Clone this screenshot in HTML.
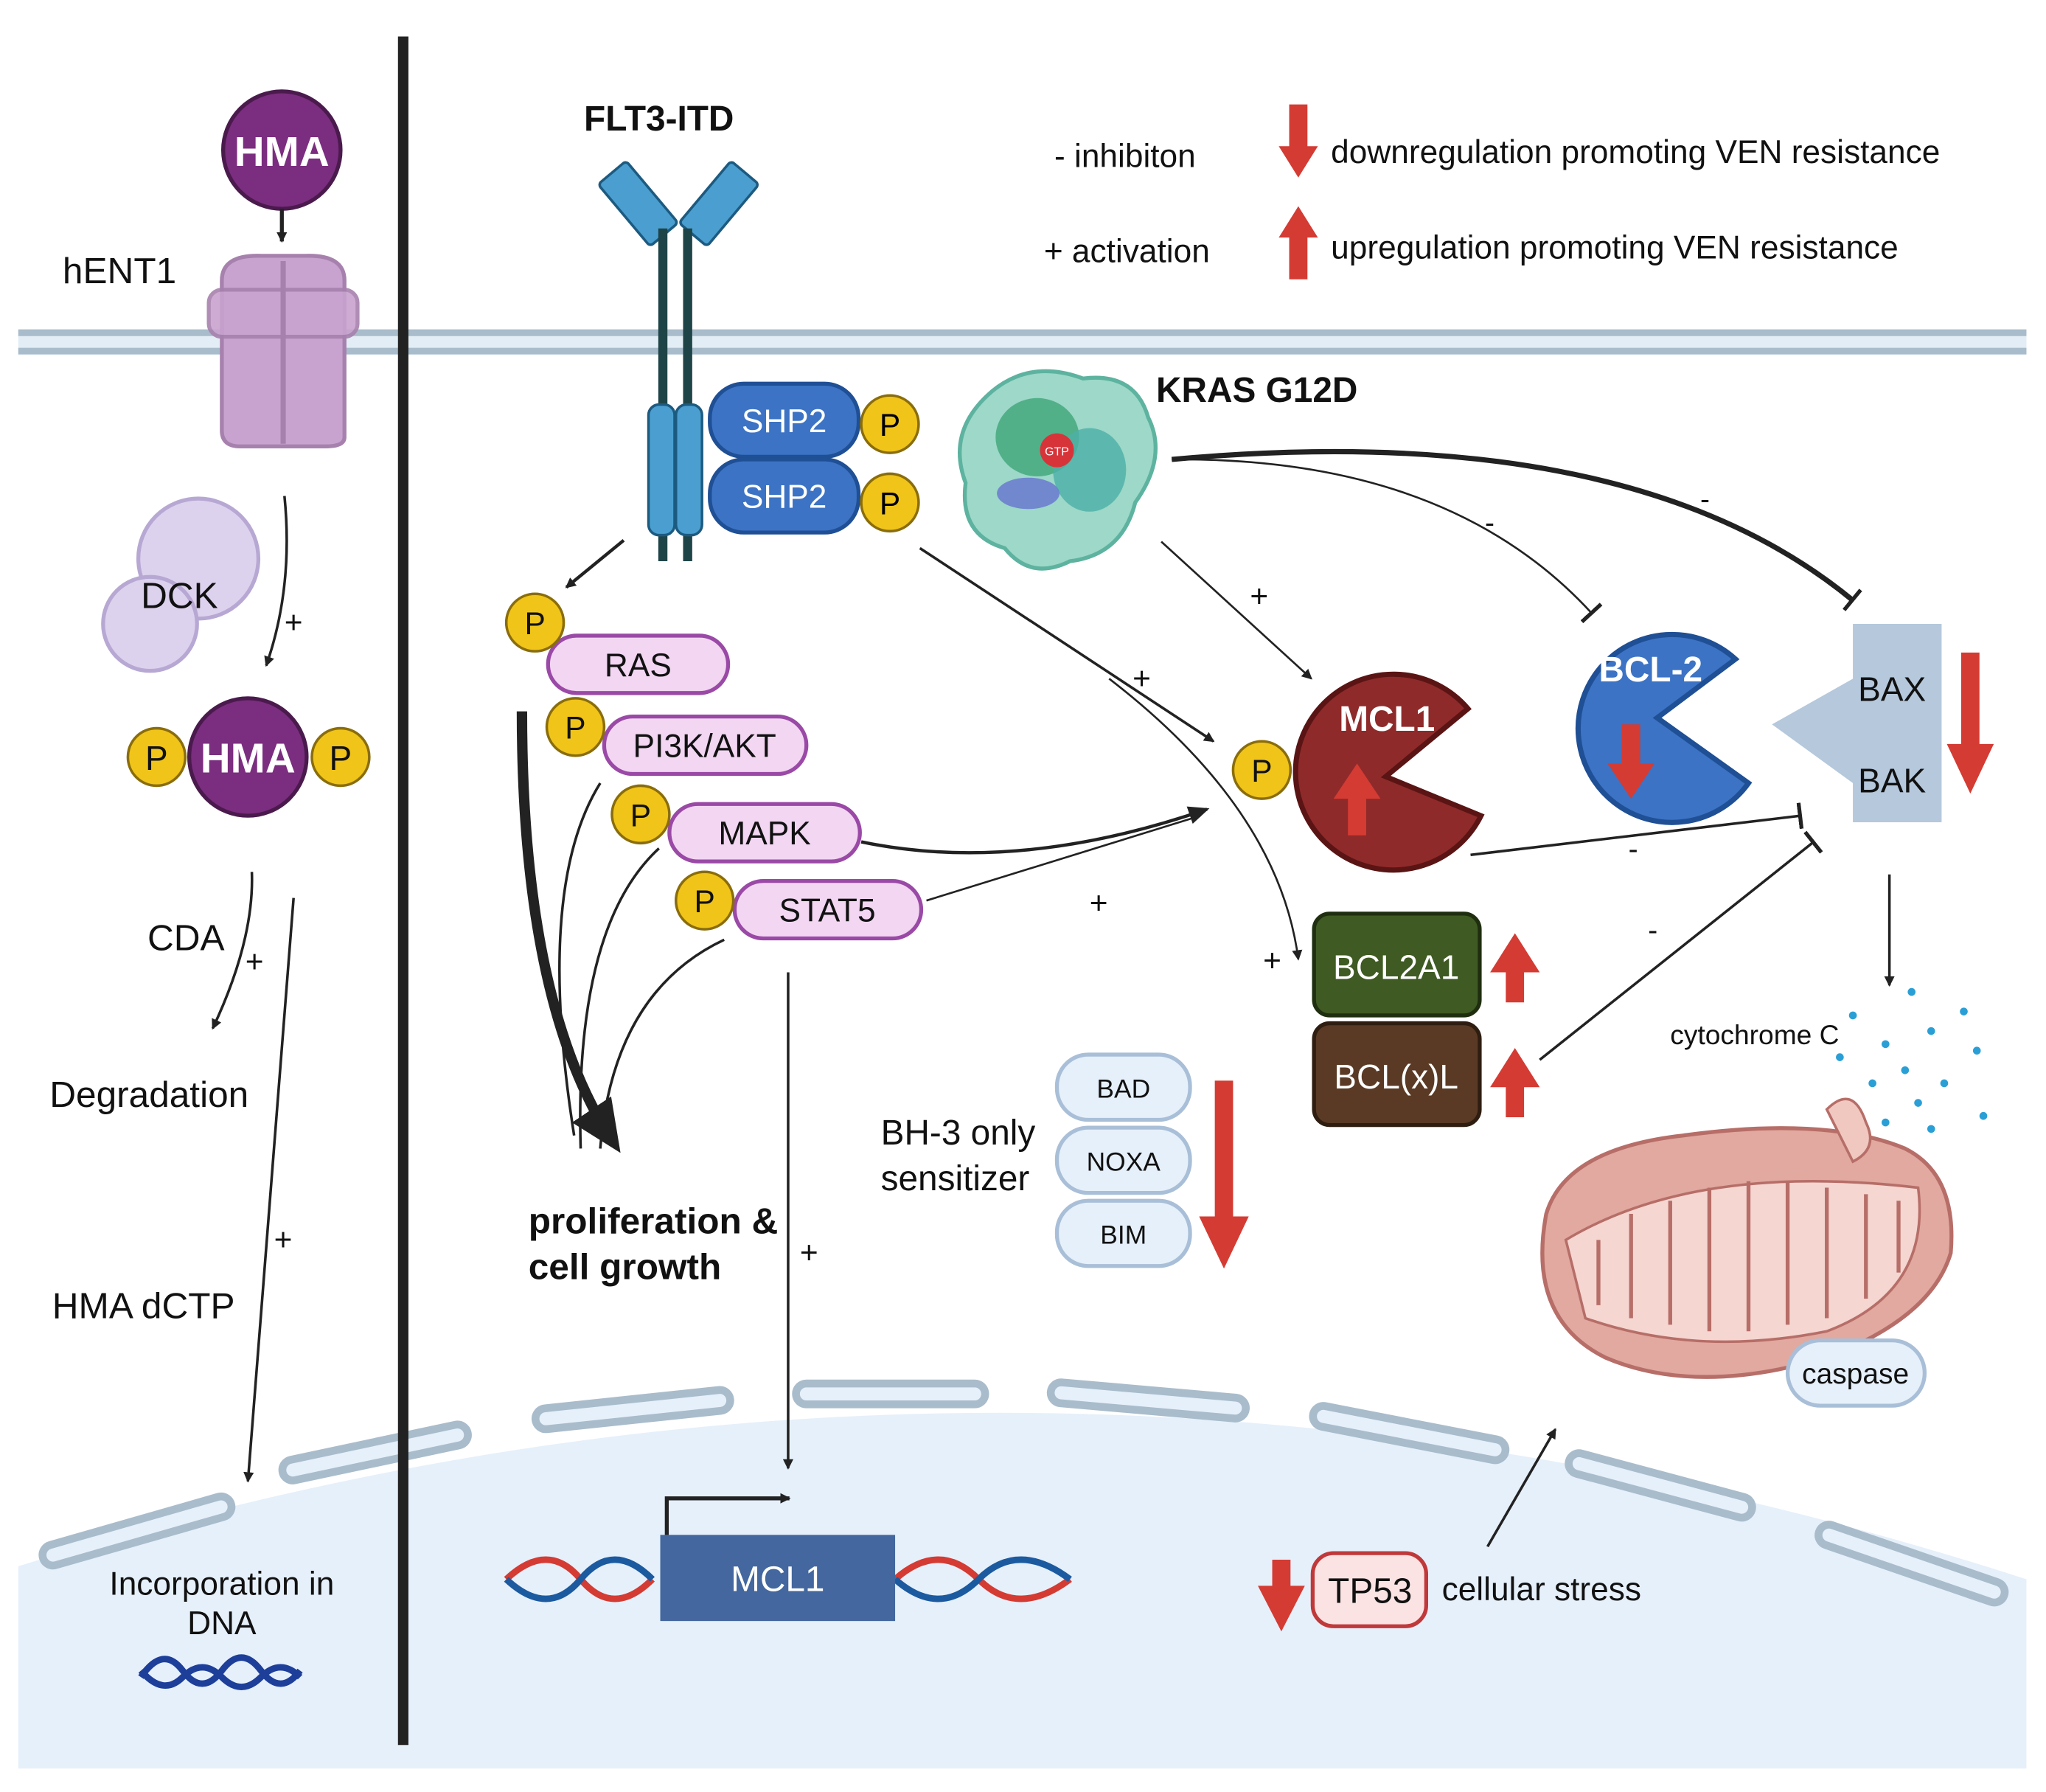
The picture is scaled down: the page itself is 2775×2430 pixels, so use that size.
<!DOCTYPE html>
<html><head><meta charset="utf-8"><style>
html,body{margin:0;padding:0;background:#fff;}
svg{display:block;}
text{font-family:"Liberation Sans",sans-serif;}
</style></head><body>
<svg width="2775" height="2430" viewBox="0 0 1568 1373" preserveAspectRatio="none" xmlns="http://www.w3.org/2000/svg">
<defs>
<marker id="ah" markerWidth="8" markerHeight="8" refX="7" refY="4" orient="auto" markerUnits="userSpaceOnUse"><path d="M0,0 L8,4 L0,8 Z" fill="#222"/></marker>
<marker id="ahb" markerWidth="16" markerHeight="14" refX="14" refY="7" orient="auto" markerUnits="userSpaceOnUse"><path d="M0,0 L16,7 L0,14 Z" fill="#222"/></marker>
<marker id="ahbig" markerWidth="40" markerHeight="36" refX="30" refY="18" orient="auto" markerUnits="userSpaceOnUse"><path d="M0,0 L40,18 L0,36 Z" fill="#222"/></marker>
<marker id="tb" markerWidth="4" markerHeight="20" refX="2" refY="10" orient="auto" markerUnits="userSpaceOnUse"><rect x="0" y="0" width="3" height="20" fill="#222"/></marker>
</defs>
<rect width="1568" height="1373" fill="#fff"/>
<path d="M14,1200 Q780,960 1553,1210 L1553,1355 L14,1355 Z" fill="#e6f0fa"/>
<g fill="#e6f0fa" stroke="#a9bccb" stroke-width="6">
<rect x="30" y="1165" width="150" height="16" rx="8" transform="rotate(-16 105 1173)"/>
<rect x="215" y="1105" width="145" height="16" rx="8" transform="rotate(-12 287 1113)"/>
<rect x="410" y="1072" width="150" height="16" rx="8" transform="rotate(-6 485 1080)"/>
<rect x="610" y="1060" width="145" height="16" rx="8"/>
<rect x="805" y="1065" width="150" height="16" rx="8" transform="rotate(5 880 1073)"/>
<rect x="1005" y="1090" width="150" height="16" rx="8" transform="rotate(11 1080 1098)"/>
<rect x="1200" y="1130" width="145" height="16" rx="8" transform="rotate(15 1272 1138)"/>
<rect x="1390" y="1190" width="150" height="16" rx="8" transform="rotate(19 1465 1198)"/>
</g>
<rect x="14" y="252" width="1539" height="20" fill="#e3edf5"/>
<line x1="14" y1="255" x2="1553" y2="255" stroke="#a9bccb" stroke-width="5"/>
<line x1="14" y1="269" x2="1553" y2="269" stroke="#a9bccb" stroke-width="5"/>
<line x1="309" y1="28" x2="309" y2="1337" stroke="#222" stroke-width="8"/>

<circle cx="216" cy="115" r="45" fill="#7b2d7f" stroke="#4a1a4d" stroke-width="3"/>
<text x="216" y="127" font-size="32" font-weight="bold" fill="#fff" text-anchor="middle">HMA</text>
<line x1="216" y1="160" x2="216" y2="185" stroke="#222" stroke-width="3" marker-end="url(#ah)"/>
<text x="48" y="217" font-size="28" fill="#111">hENT1</text>
<path d="M170,215 Q170,195 200,196 L234,196 Q264,195 264,215 L264,335 Q264,342 250,342 L184,342 Q170,342 170,330 Z" fill="#c9a3cf" stroke="#a781ad" stroke-width="3"/>
<rect x="160" y="222" width="114" height="36" rx="10" fill="#c9a3cf" stroke="#a781ad" stroke-width="3" opacity="0.9"/>
<line x1="217" y1="200" x2="217" y2="340" stroke="#a781ad" stroke-width="4"/>
<circle cx="152" cy="428" r="46" fill="#ddd2ee" stroke="#b7a8d3" stroke-width="3"/>
<circle cx="115" cy="478" r="36" fill="#ddd2ee" stroke="#b7a8d3" stroke-width="3"/>
<text x="108" y="466" font-size="28" fill="#111">DCK</text>
<path d="M218,380 Q225,450 204,510" fill="none" stroke="#222" stroke-width="2" marker-end="url(#ah)"/>
<text x="218" y="485" font-size="24" fill="#111">+</text>
<circle cx="190" cy="580" r="45" fill="#7b2d7f" stroke="#4a1a4d" stroke-width="3"/>
<text x="190" y="592" font-size="32" font-weight="bold" fill="#fff" text-anchor="middle">HMA</text>
<circle cx="120" cy="580" r="22" fill="#f0c419" stroke="#8a6d0b" stroke-width="2"/>
<text x="120" y="590" font-size="26" fill="#111" text-anchor="middle">P</text>
<circle cx="261" cy="580" r="22" fill="#f0c419" stroke="#8a6d0b" stroke-width="2"/>
<text x="261" y="590" font-size="26" fill="#111" text-anchor="middle">P</text>
<path d="M193,668 Q195,720 163,788" fill="none" stroke="#222" stroke-width="2" marker-end="url(#ah)"/>
<text x="113" y="728" font-size="28" fill="#111">CDA</text>
<text x="188" y="745" font-size="24" fill="#111">+</text>
<text x="38" y="848" font-size="28" fill="#111">Degradation</text>
<path d="M225,688 L190,1135" fill="none" stroke="#222" stroke-width="2" marker-end="url(#ah)"/>
<text x="210" y="958" font-size="24" fill="#111">+</text>
<text x="40" y="1010" font-size="28" fill="#111">HMA dCTP</text>
<text x="170" y="1222" font-size="25" fill="#111" text-anchor="middle">Incorporation  in</text>
<text x="170" y="1252" font-size="25" fill="#111" text-anchor="middle">DNA</text>
<path d="M108,1285 Q125,1260 140,1280 T170,1280 T200,1280 T230,1280" fill="none" stroke="#1d3f9a" stroke-width="5"/>
<path d="M108,1280 Q125,1300 140,1285 T170,1285 T200,1285 T230,1285" fill="none" stroke="#1d3f9a" stroke-width="5"/>

<text x="505" y="100" font-size="27" font-weight="bold" fill="#111" text-anchor="middle">FLT3-ITD</text>
<rect x="458" y="142" width="62" height="28" rx="3" fill="#4a9fd0" stroke="#1d5a80" stroke-width="2" transform="rotate(50 489 156)"/>
<rect x="520" y="142" width="62" height="28" rx="3" fill="#4a9fd0" stroke="#1d5a80" stroke-width="2" transform="rotate(-50 551 156)"/>
<line x1="508" y1="175" x2="508" y2="430" stroke="#1f4447" stroke-width="7"/>
<line x1="527" y1="175" x2="527" y2="430" stroke="#1f4447" stroke-width="7"/>
<rect x="497" y="310" width="20" height="100" rx="8" fill="#4a9fd0" stroke="#1d5a80" stroke-width="2"/>
<rect x="518" y="310" width="20" height="100" rx="8" fill="#4a9fd0" stroke="#1d5a80" stroke-width="2"/>
<rect x="544" y="294" width="114" height="56" rx="26" fill="#3c73c4" stroke="#1f4f95" stroke-width="3"/>
<text x="601" y="331" font-size="25" fill="#fff" text-anchor="middle">SHP2</text>
<rect x="544" y="352" width="114" height="56" rx="26" fill="#3c73c4" stroke="#1f4f95" stroke-width="3"/>
<text x="601" y="389" font-size="25" fill="#fff" text-anchor="middle">SHP2</text>
<circle cx="682" cy="325" r="22" fill="#f0c419" stroke="#8a6d0b" stroke-width="2"/><text x="682" y="334" font-size="24" text-anchor="middle">P</text>
<circle cx="682" cy="385" r="22" fill="#f0c419" stroke="#8a6d0b" stroke-width="2"/><text x="682" y="394" font-size="24" text-anchor="middle">P</text>

<text x="808" y="128" font-size="25" fill="#111">-  inhibiton</text>
<text x="800" y="201" font-size="25" fill="#111">+  activation</text>
<path d="M988,80 L1002,80 L1002,112 L1010,112 L995,136 L980,112 L988,112 Z" fill="#d43b33"/>
<path d="M988,214 L1002,214 L1002,182 L1010,182 L995,158 L980,182 L988,182 Z" fill="#d43b33"/>
<text x="1020" y="125" font-size="25" fill="#111">downregulation promoting VEN resistance</text>
<text x="1020" y="198" font-size="25" fill="#111">upregulation promoting VEN resistance</text>

<path d="M760,300 Q790,275 830,290 Q870,285 880,320 Q895,350 870,385 Q860,425 820,430 Q790,445 770,420 Q735,410 740,370 Q725,330 760,300 Z" fill="#9dd8c8" stroke="#5db39f" stroke-width="3"/>
<ellipse cx="795" cy="335" rx="32" ry="30" fill="#3fa678" opacity="0.8"/>
<ellipse cx="835" cy="360" rx="28" ry="32" fill="#4cb0a8" opacity="0.8"/>
<ellipse cx="788" cy="378" rx="24" ry="12" fill="#6d7fcf" opacity="0.9"/>
<circle cx="810" cy="345" r="13" fill="#d7343a"/>
<text x="810" y="349" font-size="9" fill="#fff" text-anchor="middle">GTP</text>
<text x="886" y="308" font-size="27" font-weight="bold" fill="#111">KRAS G12D</text>

<g font-size="25" fill="#111" text-anchor="middle">
<rect x="420" y="487" width="138" height="44" rx="22" fill="#f2d6f2" stroke="#9a4aa6" stroke-width="3"/><text x="489" y="518">RAS</text>
<rect x="463" y="549" width="155" height="44" rx="22" fill="#f2d6f2" stroke="#9a4aa6" stroke-width="3"/><text x="540" y="580">PI3K/AKT</text>
<rect x="513" y="616" width="146" height="44" rx="22" fill="#f2d6f2" stroke="#9a4aa6" stroke-width="3"/><text x="586" y="647">MAPK</text>
<rect x="563" y="675" width="143" height="44" rx="22" fill="#f2d6f2" stroke="#9a4aa6" stroke-width="3"/><text x="634" y="706">STAT5</text>
</g>
<g font-size="24" text-anchor="middle" fill="#111">
<circle cx="410" cy="477" r="22" fill="#f0c419" stroke="#8a6d0b" stroke-width="2"/><text x="410" y="486">P</text>
<circle cx="441" cy="557" r="22" fill="#f0c419" stroke="#8a6d0b" stroke-width="2"/><text x="441" y="566">P</text>
<circle cx="491" cy="624" r="22" fill="#f0c419" stroke="#8a6d0b" stroke-width="2"/><text x="491" y="633">P</text>
<circle cx="540" cy="690" r="22" fill="#f0c419" stroke="#8a6d0b" stroke-width="2"/><text x="540" y="699">P</text>
<circle cx="967" cy="590" r="22" fill="#f0c419" stroke="#8a6d0b" stroke-width="2"/><text x="967" y="599">P</text>
</g>
<line x1="478" y1="414" x2="434" y2="450" stroke="#222" stroke-width="2.5" marker-end="url(#ah)"/>
<path d="M400,545 Q400,770 470,875" fill="none" stroke="#222" stroke-width="8" marker-end="url(#ahbig)"/>
<path d="M460,600 Q410,680 440,870" fill="none" stroke="#222" stroke-width="2"/>
<path d="M505,650 Q440,710 445,880" fill="none" stroke="#222" stroke-width="2"/>
<path d="M555,720 Q470,760 460,880" fill="none" stroke="#222" stroke-width="2"/>
<text x="405" y="945" font-size="28" font-weight="bold" fill="#111">proliferation &amp;</text>
<text x="405" y="980" font-size="28" font-weight="bold" fill="#111">cell growth</text>
<line x1="604" y1="745" x2="604" y2="1125" stroke="#222" stroke-width="2" marker-end="url(#ah)"/>
<text x="613" y="968" font-size="24" fill="#111">+</text>

<path d="M705,420 L930,568" fill="none" stroke="#222" stroke-width="2" marker-end="url(#ah)"/>
<text x="868" y="528" font-size="24" fill="#111">+</text>
<path d="M660,645 Q780,670 925,620" fill="none" stroke="#222" stroke-width="2.5" marker-end="url(#ahb)"/>
<path d="M710,690 L920,625" fill="none" stroke="#222" stroke-width="1.5"/>
<text x="835" y="700" font-size="24" fill="#111">+</text>
<path d="M890,415 L1005,520" fill="none" stroke="#222" stroke-width="1.5" marker-end="url(#ah)"/>
<text x="958" y="465" font-size="24" fill="#111">+</text>
<path d="M850,520 Q980,620 995,735" fill="none" stroke="#222" stroke-width="1.5" marker-end="url(#ah)"/>
<text x="968" y="744" font-size="24" fill="#111">+</text>
<path d="M898,352 Q1110,350 1220,470" fill="none" stroke="#222" stroke-width="1.5" marker-end="url(#tb)"/>
<text x="1138" y="408" font-size="22" fill="#111">-</text>
<path d="M898,352 Q1250,320 1420,460" fill="none" stroke="#222" stroke-width="4" marker-end="url(#tb)"/>
<text x="1303" y="390" font-size="22" fill="#111">-</text>
<path d="M1127,655 L1380,625" fill="none" stroke="#222" stroke-width="2" marker-end="url(#tb)"/>
<text x="1248" y="658" font-size="22" fill="#111">-</text>
<path d="M1180,812 L1390,645" fill="none" stroke="#222" stroke-width="2" marker-end="url(#tb)"/>
<text x="1263" y="720" font-size="22" fill="#111">-</text>

<path d="M1062,595 L1125,543 A75,75 0 1,0 1135,625 Z" fill="#8f2a2a" stroke="#5a1414" stroke-width="4"/>
<text x="1063" y="560" font-size="27" font-weight="bold" fill="#fff" text-anchor="middle">MCL1</text>
<path d="M1033,640 L1047,640 L1047,612 L1058,612 L1040,585 L1022,612 L1033,612 Z" fill="#d43b33"/>
<path d="M1270,550 L1330,505 A72,72 0 1,0 1340,600 Z" fill="#3c73c4" stroke="#1f4f95" stroke-width="4"/>
<text x="1265" y="522" font-size="27" font-weight="bold" fill="#fff" text-anchor="middle">BCL-2</text>
<path d="M1243,555 L1257,555 L1257,585 L1268,585 L1250,612 L1232,585 L1243,585 Z" fill="#d43b33"/>
<path d="M1420,478 L1488,478 L1488,630 L1420,630 L1420,600 L1358,555 L1420,520 Z" fill="#b5c8dc"/>
<text x="1450" y="537" font-size="26" fill="#111" text-anchor="middle">BAX</text>
<text x="1450" y="607" font-size="26" fill="#111" text-anchor="middle">BAK</text>
<path d="M1503,500 L1517,500 L1517,570 L1528,570 L1510,608 L1492,570 L1503,570 Z" fill="#d43b33"/>
<line x1="1448" y1="670" x2="1448" y2="755" stroke="#222" stroke-width="2" marker-end="url(#ah)"/>
<rect x="1007" y="700" width="127" height="78" rx="12" fill="#3f5a22" stroke="#1e2e0f" stroke-width="3"/>
<text x="1070" y="750" font-size="26" fill="#fff" text-anchor="middle">BCL2A1</text>
<rect x="1007" y="784" width="127" height="78" rx="12" fill="#5a3a25" stroke="#2e1d10" stroke-width="3"/>
<text x="1070" y="834" font-size="26" fill="#fff" text-anchor="middle">BCL(x)L</text>
<path d="M1154,768 L1168,768 L1168,745 L1180,745 L1161,715 L1142,745 L1154,745 Z" fill="#d43b33"/>
<path d="M1154,856 L1168,856 L1168,833 L1180,833 L1161,803 L1142,833 L1154,833 Z" fill="#d43b33"/>

<text x="675" y="877" font-size="27" fill="#111">BH-3 only</text>
<text x="675" y="912" font-size="27" fill="#111">sensitizer</text>
<g font-size="20" fill="#111" text-anchor="middle">
<rect x="810" y="808" width="102" height="50" rx="24" fill="#e6f0fa" stroke="#a9bfd8" stroke-width="3"/><text x="861" y="841">BAD</text>
<rect x="810" y="864" width="102" height="50" rx="24" fill="#e6f0fa" stroke="#a9bfd8" stroke-width="3"/><text x="861" y="897">NOXA</text>
<rect x="810" y="920" width="102" height="50" rx="24" fill="#e6f0fa" stroke="#a9bfd8" stroke-width="3"/><text x="861" y="953">BIM</text>
</g>
<path d="M931,828 L945,828 L945,932 L957,932 L938,972 L919,932 L931,932 Z" fill="#d43b33"/>

<text x="1280" y="800" font-size="21" fill="#111">cytochrome C</text>
<g fill="#2a9fd6">
<circle cx="1420" cy="778" r="3"/><circle cx="1445" cy="800" r="3"/><circle cx="1465" cy="760" r="3"/><circle cx="1480" cy="790" r="3"/><circle cx="1505" cy="775" r="3"/><circle cx="1515" cy="805" r="3"/><circle cx="1460" cy="820" r="3"/><circle cx="1490" cy="830" r="3"/><circle cx="1435" cy="830" r="3"/><circle cx="1470" cy="845" r="3"/><circle cx="1520" cy="855" r="3"/><circle cx="1480" cy="865" r="3"/><circle cx="1410" cy="810" r="3"/><circle cx="1445" cy="860" r="3"/>
</g>
<path d="M1185,930 Q1200,880 1290,870 Q1400,855 1460,880 Q1500,900 1495,960 Q1480,1010 1400,1040 Q1300,1070 1230,1040 Q1170,1010 1185,930 Z" fill="#e1a9a0" stroke="#b76e68" stroke-width="3"/>
<path d="M1200,950 Q1300,890 1470,910 Q1480,990 1400,1020 Q1300,1040 1215,1010 Z" fill="#f5d6d1" stroke="#b76e68" stroke-width="2"/>
<g stroke="#b76e68" stroke-width="3" fill="none">
<path d="M1225,1000 L1225,950"/><path d="M1250,1010 L1250,930"/><path d="M1280,1015 L1280,920"/><path d="M1310,1020 L1310,910"/><path d="M1340,1020 L1340,905"/><path d="M1370,1015 L1370,905"/><path d="M1400,1010 L1400,910"/><path d="M1430,995 L1430,915"/><path d="M1455,975 L1455,920"/>
</g>
<path d="M1400,850 Q1420,830 1430,860 Q1440,880 1420,890 Z" fill="#f0c8c0" stroke="#b76e68" stroke-width="2"/>
<rect x="1370" y="1027" width="105" height="50" rx="25" fill="#e6f0fa" stroke="#a9bfd8" stroke-width="3"/>
<text x="1422" y="1060" font-size="22" fill="#111" text-anchor="middle">caspase</text>
<line x1="1140" y1="1185" x2="1192" y2="1095" stroke="#222" stroke-width="2" marker-end="url(#ah)"/>

<path d="M388,1210 Q420,1180 445,1210 T500,1210" fill="none" stroke="#d43b33" stroke-width="5"/>
<path d="M388,1210 Q420,1240 445,1210 T500,1210" fill="none" stroke="#1c5aa0" stroke-width="5"/>
<path d="M686,1210 Q720,1180 750,1210 T820,1210" fill="none" stroke="#d43b33" stroke-width="5"/>
<path d="M686,1210 Q720,1240 750,1210 T820,1210" fill="none" stroke="#1c5aa0" stroke-width="5"/>
<rect x="506" y="1176" width="180" height="66" fill="#43679e"/>
<text x="596" y="1219" font-size="27" fill="#fff" text-anchor="middle">MCL1</text>
<path d="M511,1176 L511,1148 L605,1148" fill="none" stroke="#222" stroke-width="3" marker-end="url(#ah)"/>

<path d="M975,1195 L989,1195 L989,1215 L1000,1215 L982,1250 L964,1215 L975,1215 Z" fill="#d43b33"/>
<rect x="1006" y="1190" width="87" height="56" rx="16" fill="#fbe3e3" stroke="#c0393a" stroke-width="3"/>
<text x="1050" y="1228" font-size="27" fill="#111" text-anchor="middle">TP53</text>
<text x="1105" y="1226" font-size="25" fill="#111">cellular stress</text>
</svg>
</body></html>
